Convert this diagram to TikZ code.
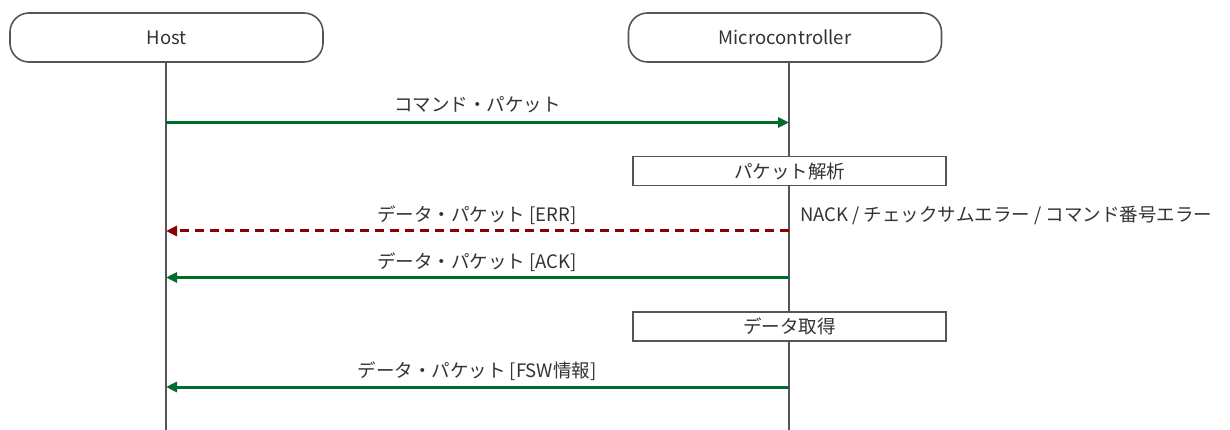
\documentclass[tikz,border=0pt]{standalone}
\usepackage{fontspec}
\setmainfont{Noto Sans CJK JP}
\usetikzlibrary{arrows.meta}
\definecolor{txt}{HTML}{333333}
\definecolor{lifec}{HTML}{555555}
\definecolor{okgreen}{HTML}{006B2B}
\definecolor{errred}{HTML}{8B0000}
\tikzset{
  actor/.style={draw=lifec, line width=1.6pt, rounded corners=19pt, minimum width=313pt, minimum height=49pt, inner sep=0pt, text=txt, font=\fontsize{18.5}{22}\selectfont},
  procbox/.style={draw=lifec, line width=1.6pt, minimum width=313pt, minimum height=29pt, inner sep=0pt, text=txt, fill=white, font=\fontsize{18.5}{22}\selectfont},
  lifeline/.style={draw=lifec, line width=1.6pt},
  msg/.style={draw=okgreen, line width=3pt, -{Triangle[length=11pt,width=10pt]}},
  errmsg/.style={draw=errred, line width=3pt, dash pattern=on 9pt off 6pt, -{Triangle[length=11pt,width=10pt]}},
  lbl/.style={text=txt, inner sep=0pt, font=\fontsize{18.5}{22}\selectfont},
}
\begin{document}
\begin{tikzpicture}[x=1pt,y=-1pt]
\useasboundingbox[fill=white] (0,0) rectangle (1230,430);
\node[actor] (host) at (166.5,37.5) {Host};
\node[actor] (mcu) at (785,37.5) {Microcontroller};
\coordinate (hostend) at (166,430);
\coordinate (mcuend) at (789,430);
\coordinate (hosttop) at (166,62);
\coordinate (mcutop) at (789,62);
\draw[lifeline] (hosttop) -- (hostend);
\draw[lifeline] (mcutop) -- (mcuend);
% message anchors
\coordinate (h1) at (166,122.5);
\coordinate (m1) at (789,122.5);
\coordinate (h2) at (166,231);
\coordinate (m2) at (789,231);
\coordinate (h3) at (166,277.5);
\coordinate (m3) at (789,277.5);
\coordinate (h4) at (166,387);
\coordinate (m4) at (789,387);
\draw[msg] (h1) -- (m1);
\node[lbl] (l1) at (477.5,105) {コマンド・パケット};
\node[procbox] (p1) at (789.5,171) {パケット解析};
\draw[errmsg] (m2) -- (h2);
\node[lbl] (l2) at (477,215) {データ・パケット [ERR]};
\node[lbl, anchor=west] (nack) at (800,215) {NACK / チェックサムエラー / コマンド番号エラー};
\draw[msg] (m3) -- (h3);
\node[lbl] (l3) at (477,262) {データ・パケット [ACK]};
\node[procbox] (p2) at (789.5,326.5) {データ取得};
\draw[msg] (m4) -- (h4);
\node[lbl] (l4) at (477,371) {データ・パケット [FSW情報]};
\end{tikzpicture}
\end{document}
